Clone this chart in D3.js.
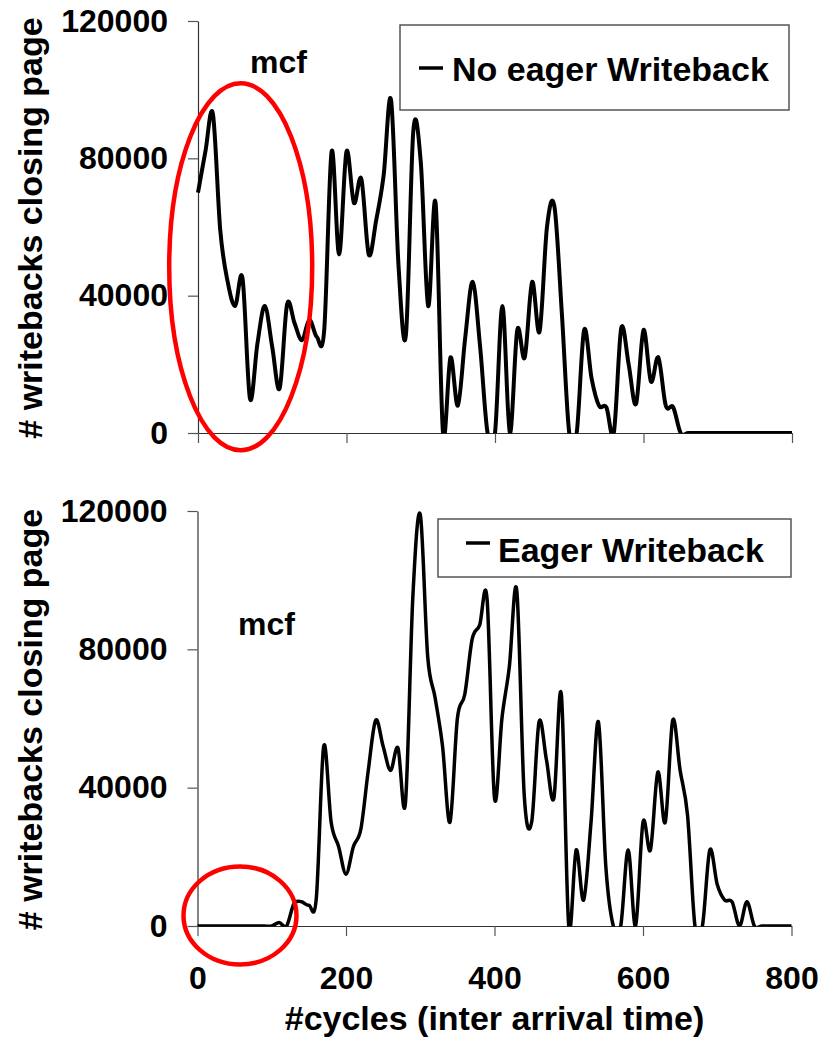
<!DOCTYPE html>
<html><head><meta charset="utf-8">
<script src="https://cdn.jsdelivr.net/npm/d3@7"></script>
<style>
body{margin:0;background:#fff}
svg{display:block}
text{font-family:"Liberation Sans",Arial,sans-serif;font-weight:bold;fill:#000}
</style>
</head><body>
<svg id="c" width="819" height="1038"></svg>
<script>
// ---- data ----
const cycles = [0,10,20,30,40,50,60,70,80,90,100,110,120,130,140,150,160,170,180,190,
  200,210,220,230,240,250,260,270,280,290,300,310,320,330,340,350,360,370,380,390,
  400,410,420,430,440,450,460,470,480,490,500,510,520,530,540,550,560,570,580,590,
  600,610,620,630,640,650,660,670,680,690,700,710,720,730,740,750,760,770,780,790,800];

const noEagerWriteback = [70000,82000,93000,59000,44000,37000,45000,10000,26000,37000,
  25000,13000,37500,32000,27000,33000,28000,30000,82000,52000,
  82000,67000,74000,52000,62000,75000,97000,49000,28500,88000,
  79000,37000,67000,0,22000,8000,28000,44000,25000,0,
  0,37000,0,30000,22000,44000,29500,60000,66000,35000,
  0,0,30000,16000,8000,7500,0,30500,20000,8500,
  30000,15000,22000,8000,7500,0,0,0,0,0,
  0,0,0,0,0,0,0,0,0,0,0];

const eagerWriteback = [0,0,0,0,0,0,0,0,0,0,
  0,1000,0,6500,7000,6000,8000,52000,30000,23000,
  15000,23000,28000,45000,59500,52000,45000,51500,35500,95000,
  119000,78000,66000,52000,30000,60000,67000,83000,87000,94500,
  37000,60000,75000,97000,38000,30000,59000,48000,37000,67000,
  0,22000,7500,30000,59000,17000,0,0,22000,0,
  30000,22000,44500,30000,59500,45000,32000,0,0,22000,
  12000,7500,7000,0,7000,0,0,0,0,0,0];

const yTicks = [0,40000,80000,120000];
const xTicks = [0,200,400,600,800];
const yTitle = "# writebacks closing page";
const xTitle = "#cycles (inter arrival time)";
const benchLabel = "mcf";
const legendLabels = ["No eager Writeback","Eager Writeback"];

// ---- drawing ----
const svg = d3.select("#c");

function panel(o){
  const x = d3.scaleLinear().domain([0,800]).range([o.x0,o.x1]);
  const y = d3.scaleLinear().domain([0,120000]).range([o.yb,o.yt]);

  svg.append("clipPath").attr("id",o.id).append("rect")
    .attr("x",o.x0-2).attr("y",o.yt-12)
    .attr("width",o.x1-o.x0+4).attr("height",o.yb-o.yt+12+0.6);

  // y axis
  const ya = svg.append("g").attr("transform",`translate(${o.x0},0)`)
    .call(d3.axisLeft(y).tickValues(yTicks).tickSize(10).tickSizeOuter(0)
      .tickPadding(20).tickFormat(d3.format("d")));
  ya.select(".domain").attr("stroke","#333").attr("stroke-width",1.2);
  ya.selectAll(".tick line").attr("stroke","#555").attr("stroke-width",1.2);
  ya.selectAll(".tick text").attr("font-size",32).attr("font-family",null).attr("fill","#000");

  // x axis
  const xa = svg.append("g").attr("transform",`translate(0,${o.yb})`)
    .call(d3.axisBottom(x).tickValues(xTicks).tickSize(10).tickSizeOuter(0)
      .tickPadding(30).tickFormat(o.xLabels ? d3.format("d") : ""));
  xa.select(".domain").attr("stroke","#333").attr("stroke-width",1.2);
  xa.selectAll(".tick line").attr("stroke","#555").attr("stroke-width",1.2);
  xa.selectAll(".tick text").attr("font-size",32).attr("font-family",null).attr("fill","#000");

  // series line
  const line = d3.line().x((d,i)=>x(cycles[i])).y(d=>y(d))
    .curve(d3.curveCardinal.tension(0));
  svg.append("path").datum(o.values)
    .attr("clip-path",`url(#${o.id})`)
    .attr("fill","none").attr("stroke","#000")
    .attr("stroke-width",o.sw).attr("stroke-linejoin","round")
    .attr("d",line);

  // y title
  svg.append("text")
    .attr("transform",`translate(42,${(o.yt+o.yb)/2+1}) rotate(-90)`)
    .attr("text-anchor","middle").attr("font-size",34).text(yTitle);

  // bench label
  svg.append("text").attr("x",o.mcf[0]).attr("y",o.mcf[1])
    .attr("font-size",32).text(benchLabel);

  // legend
  const L = o.leg;
  svg.append("rect").attr("x",L.x).attr("y",L.y).attr("width",L.w).attr("height",L.h)
    .attr("fill","#fff").attr("stroke","#555").attr("stroke-width",1.5);
  svg.append("line").attr("x1",L.mx).attr("x2",L.mx+24).attr("y1",L.my).attr("y2",L.my)
    .attr("stroke","#000").attr("stroke-width",3.5);
  svg.append("text").attr("x",L.tx).attr("y",L.ty).attr("font-size",34).text(o.legend);

  // highlight ellipse
  svg.append("ellipse").attr("cx",o.ell[0]).attr("cy",o.ell[1])
    .attr("rx",o.ell[2]).attr("ry",o.ell[3])
    .attr("fill","none").attr("stroke","#ff0000").attr("stroke-width",4.5);

  return {x,y};
}

panel({id:"clipTop",x0:198,x1:792,yt:21,yb:433,values:noEagerWriteback,sw:4,
  xLabels:false,mcf:[250,73],legend:legendLabels[0],
  leg:{x:400,y:25,w:389,h:85,mx:419,my:68,tx:452,ty:81},
  ell:[240.7,266.7,71.5,183.5]});

panel({id:"clipBot",x0:197.5,x1:791.5,yt:511,yb:926,values:eagerWriteback,sw:3.5,
  xLabels:true,mcf:[238,635],legend:legendLabels[1],
  leg:{x:438,y:519,w:353,h:58,mx:466,my:543,tx:498,ty:562},
  ell:[240,915.5,56.5,49]});

// x title
svg.append("text").attr("x",(197.5+791.5)/2).attr("y",1030)
  .attr("text-anchor","middle").attr("font-size",34).text(xTitle);
</script>
</body></html>
